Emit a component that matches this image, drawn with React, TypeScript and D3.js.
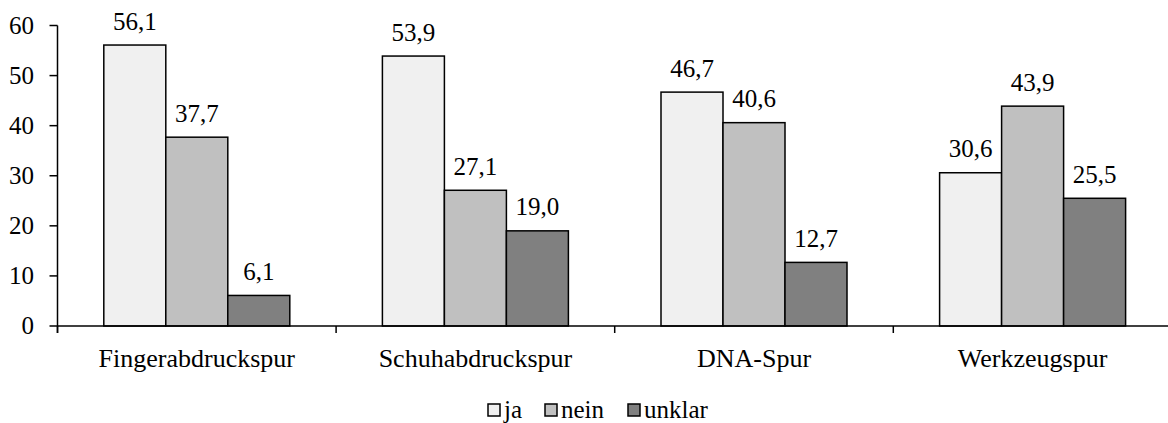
import React from "react";
import * as d3 from "d3";

const categories = ["Fingerabdruckspur", "Schuhabdruckspur", "DNA-Spur", "Werkzeugspur"];
const seriesNames = ["ja", "nein", "unklar"];
const jaValues = [56.1, 53.9, 46.7, 30.6];
const neinValues = [37.7, 27.1, 40.6, 43.9];
const unklarValues = [6.1, 19.0, 12.7, 25.5];
const yTicks = [0, 10, 20, 30, 40, 50, 60];
const seriesColors = ["#f0f0f0", "#c0c0c0", "#808080"];

const W = 1168;
const H = 423;
const FONT = '"Liberation Serif"';
const FS = 25;
const FS_CAT = 26;
const ts = { fontFamily: FONT };

export default function App() {
  const x0 = 57.5;
  const step = 278.6;
  const xScale = d3.scaleBand<string>().domain(categories).range([x0, x0 + step * categories.length]).padding(0);
  const inner = d3.scaleBand<string>().domain(seriesNames).range([46.3, 232.3]).padding(0);
  const yScale = d3.scaleLinear().domain([0, 60]).range([326, 25.5]);
  const series = [jaValues, neinValues, unklarValues];
  const fmt = (v: number) => v.toFixed(1).replace(".", ",");
  const base = yScale(0);

  const legendItems = [
    { name: seriesNames[0], box: 488, text: 504 },
    { name: seriesNames[1], box: 545, text: 561 },
    { name: seriesNames[2], box: 628, text: 644 },
  ];

  return (
    <svg width={W} height={H} style={{ position: "absolute", left: 0, top: 0 }}>
      <rect x={0} y={0} width={W} height={H} fill="#ffffff" />
      {categories.map((c, ci) => (
        <g key={c}>
          {series.map((vals, si) => {
            const v = vals[ci];
            const bx = (xScale(c) as number) + (inner(seriesNames[si]) as number);
            const bw = inner.bandwidth();
            const top = yScale(v);
            return (
              <g key={si}>
                <rect x={bx} y={top} width={bw} height={base - top} fill={seriesColors[si]} stroke="#000" strokeWidth={1.5} />
                <text x={bx + bw / 2} y={top - 15.5} textAnchor="middle" fontSize={FS} fill="#000" style={ts}>
                  {fmt(v)}
                </text>
              </g>
            );
          })}
          <text x={(xScale(c) as number) + step / 2} y={367} textAnchor="middle" fontSize={FS_CAT} fill="#000" style={ts}>
            {c}
          </text>
        </g>
      ))}
      {/* y axis */}
      <line x1={x0} x2={x0} y1={yScale(60)} y2={base + 7} stroke="#000" strokeWidth={1.5} />
      {yTicks.map((t) => (
        <g key={t}>
          <line x1={x0 - 8} x2={x0} y1={yScale(t)} y2={yScale(t)} stroke="#000" strokeWidth={1.5} />
          <text x={34} y={yScale(t) + 8} textAnchor="end" fontSize={FS} fill="#000" style={ts}>
            {t}
          </text>
        </g>
      ))}
      {/* x axis */}
      <line x1={x0} x2={W} y1={base} y2={base} stroke="#000" strokeWidth={1.5} />
      {categories.map((c) => (
        <line key={c} x1={xScale(c) as number} x2={xScale(c) as number} y1={base} y2={base + 7} stroke="#000" strokeWidth={1.5} />
      ))}
      {/* legend */}
      {legendItems.map((l, i) => (
        <g key={l.name}>
          <rect x={l.box} y={404} width={12} height={12} fill={seriesColors[i]} stroke="#000" strokeWidth={1.5} />
          <text x={l.text} y={418} fontSize={FS} fill="#000" style={ts}>
            {l.name}
          </text>
        </g>
      ))}
    </svg>
  );
}
